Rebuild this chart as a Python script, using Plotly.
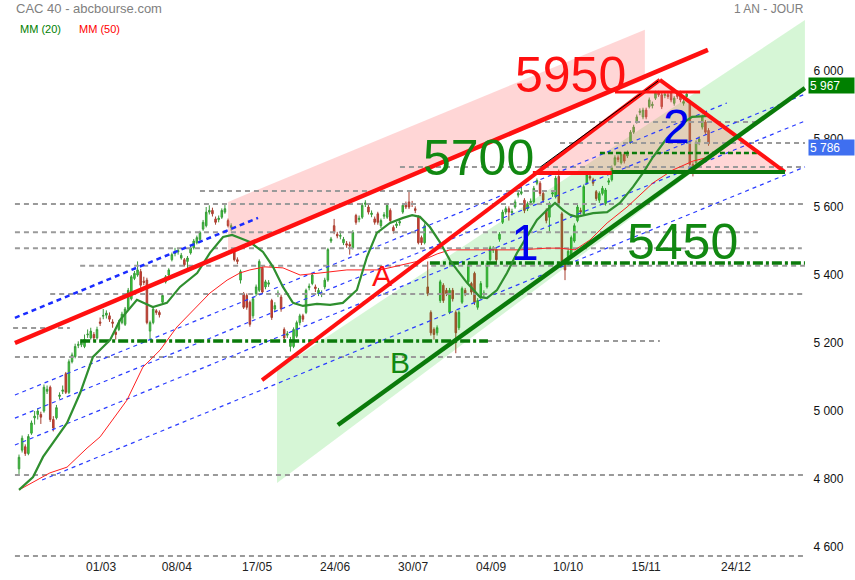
import plotly.graph_objects as go

# ---------------- data ----------------
opens = [4830,4885,4895,4875,4935,4980,4990,4990,5000,5058,
5070,4975,4980,5043,5058,5110,5055,5145,5160,5193,
5195,5190,5224,5215,5225,5215,5262,5279,5282,5280,
5262,5232,5240,5260,5255,5300,5330,5390,5400,5410,
5382,5385,5235,5260,5295,5290,5320,5380,5400,5445,
5463,5468,5450,5445,5440,5465,5480,5495,5505,5535,
5545,5585,5590,5565,5563,5570,5585,5560,5540,5475,
5445,5385,5345,5340,5320,5280,5345,5355,5420,5365,
5373,5325,5300,5343,5335,5240,5223,5190,5190,5220,
5260,5280,5290,5363,5375,5365,5345,5343,5365,5385,
5500,5545,5520,5514,5495,5492,5490,5480,5575,5563,
5570,5608,5600,5578,5565,5580,5545,5573,5570,5590,
5540,5545,5553,5585,5610,5615,5610,5595,5570,5510,
5495,5365,5290,5240,5230,5325,5370,5355,5290,5355,
5290,5245,5320,5355,5380,5375,5405,5305,5335,5343,
5365,5445,5473,5475,5505,5555,5585,5595,5583,5600,
5635,5640,5620,5595,5613,5615,5670,5670,5640,5590,
5570,5638,5630,5690,5580,5440,5435,5455,5500,5560,
5590,5580,5670,5690,5680,5645,5620,5640,5610,5673,
5680,5725,5745,5730,5755,5750,5790,5820,5850,5878,
5865,5885,5895,5898,5920,5935,5930,5928,5930,5935,
5905,5935,5935,5905,5925,5905,5725,5730,5790,5835,
5850,5825]
highs = [4872,4928,4902,4932,4972,5000,5008,4998,5078,5075,
5075,4985,5018,5055,5075,5115,5152,5172,5198,5205,
5210,5225,5240,5245,5232,5248,5275,5300,5296,5290,
5270,5240,5268,5292,5306,5362,5400,5412,5440,5418,
5395,5392,5266,5306,5300,5296,5346,5400,5420,5466,
5480,5480,5465,5450,5456,5486,5506,5516,5530,5562,
5600,5605,5598,5572,5575,5596,5610,5566,5552,5480,
5452,5416,5350,5346,5325,5336,5372,5446,5426,5386,
5385,5330,5320,5355,5342,5246,5235,5218,5246,5266,
5286,5286,5360,5375,5406,5372,5362,5355,5392,5480,
5512,5565,5527,5530,5512,5500,5498,5532,5580,5575,
5612,5620,5606,5590,5572,5586,5566,5585,5612,5596,
5546,5556,5565,5612,5616,5650,5618,5602,5576,5516,
5552,5440,5296,5246,5252,5386,5376,5362,5362,5362,
5296,5296,5366,5362,5436,5380,5410,5332,5382,5355,
5442,5486,5485,5482,5526,5592,5602,5602,5595,5622,
5648,5660,5626,5616,5625,5662,5684,5676,5646,5596,
5616,5650,5692,5710,5586,5446,5476,5516,5552,5606,
5598,5666,5702,5698,5686,5650,5646,5662,5656,5685,
5722,5752,5752,5762,5762,5766,5826,5842,5872,5890,
5892,5892,5922,5910,5942,5942,5936,5940,5938,5942,
5926,5942,5942,5918,5940,5912,5732,5796,5808,5872,
5856,5832]
lows = [4815,4878,4868,4870,4930,4960,4975,4962,4995,5050,
4968,4940,4975,5035,5050,5050,5050,5140,5155,5185,
5188,5185,5215,5210,5205,5210,5250,5270,5272,5262,
5245,5210,5235,5255,5250,5295,5325,5385,5395,5362,
5370,5255,5210,5255,5283,5275,5315,5375,5395,5440,
5455,5460,5445,5425,5420,5460,5475,5490,5500,5530,
5540,5578,5572,5548,5555,5565,5580,5540,5530,5440,
5432,5375,5300,5298,5248,5272,5338,5350,5345,5358,
5365,5268,5292,5335,5292,5200,5215,5175,5185,5215,
5252,5262,5285,5355,5370,5350,5338,5335,5358,5380,
5494,5520,5508,5505,5488,5480,5460,5475,5548,5555,
5565,5600,5578,5570,5548,5548,5538,5565,5565,5552,
5522,5538,5545,5580,5594,5594,5600,5582,5490,5488,
5490,5338,5222,5210,5222,5318,5318,5338,5285,5322,
5170,5238,5315,5338,5375,5342,5312,5298,5328,5335,
5360,5440,5465,5438,5498,5550,5578,5560,5575,5595,
5628,5635,5582,5588,5605,5610,5664,5632,5612,5552,
5528,5630,5625,5602,5428,5385,5428,5450,5495,5555,
5578,5575,5665,5678,5662,5618,5612,5634,5604,5665,
5675,5720,5732,5725,5728,5744,5785,5815,5845,5870,
5858,5858,5890,5890,5915,5924,5888,5920,5918,5908,
5898,5918,5908,5898,5918,5718,5690,5722,5782,5828,
5812,5780]
closes = [4864,4920,4875,4925,4965,4985,5000,4982,5070,5064,
4975,4950,5010,5047,5062,5055,5145,5165,5190,5196,
5202,5210,5226,5235,5215,5240,5258,5281,5288,5270,
5258,5225,5260,5285,5300,5355,5395,5405,5415,5370,
5378,5260,5260,5300,5290,5283,5340,5395,5415,5460,
5467,5472,5458,5430,5450,5480,5500,5510,5525,5555,
5585,5590,5580,5555,5567,5590,5595,5545,5545,5445,
5440,5410,5305,5305,5255,5330,5365,5440,5350,5380,
5377,5275,5310,5347,5300,5215,5227,5210,5240,5260,
5280,5270,5355,5367,5400,5360,5355,5347,5385,5475,
5506,5525,5515,5516,5505,5488,5485,5525,5555,5567,
5605,5612,5585,5582,5555,5555,5560,5577,5605,5560,
5530,5550,5557,5605,5600,5600,5608,5590,5495,5495,
5545,5345,5230,5225,5245,5380,5325,5345,5355,5330,
5230,5290,5360,5345,5430,5350,5320,5325,5375,5347,
5435,5480,5477,5445,5520,5585,5595,5585,5587,5615,
5640,5645,5590,5610,5617,5655,5678,5640,5620,5560,
5610,5642,5685,5610,5435,5415,5470,5510,5545,5600,
5585,5660,5695,5685,5670,5625,5640,5655,5650,5677,
5715,5745,5740,5755,5735,5760,5820,5835,5865,5882,
5885,5865,5915,5902,5935,5930,5895,5932,5925,5915,
5920,5925,5915,5910,5932,5725,5710,5790,5800,5865,
5820,5786]
bars = list(range(len(closes)))

# moving averages (bar index, value)
mm20_x = [0,4.5,7.7,10.9,15.4,19.6,23.7,29.2,32.4,37.8,42.9,47.4,51.6,57.1,61.2,65.4,68.3,70.8,74,78.2,81.4,84.6,87.8,91,95.5,99.7,103.8,108.3,111.5,114.7,118.9,123.1,126,128.5,131.7,134.9,138.1,140.4,143.6,147.8,150,153.2,156.4,159.6,162.8,166,169.2,171.8,174.4,176.6,178.8,184,188.5,192.6,196.8,200,203.2,207.7,211.9,215.7,221.2]
mm20_y = [4768,4806,4865,4906,4965,5053,5159,5209,5268,5327,5306,5318,5365,5406,5465,5512,5518,5509,5497,5468,5424,5365,5318,5309,5315,5312,5318,5356,5453,5524,5553,5568,5576,5571,5541,5497,5444,5415,5377,5335,5332,5356,5406,5465,5512,5562,5591,5612,5591,5577,5571,5582,5585,5612,5659,5700,5747,5803,5841,5865,5868]
mm50_x = [0,9.9,15.4,21.8,26,30.1,34.6,39.7,45.2,50.6,55.8,61.2,66.7,70.8,74,78.8,84.6,90.1,96.5,105.1,115.7,124.4,129.5,134,138.1,147.8,160.6,169.2,173.4,178.2,183,188.5,194.9,203.2,209.6,216,221.2]
mm50_y = [4768,4818,4835,4891,4924,4974,5032,5129,5179,5247,5297,5347,5385,5406,5415,5424,5421,5400,5406,5415,5415,5432,5444,5462,5474,5474,5474,5479,5479,5474,5503,5553,5600,5671,5709,5735,5747]

# x-axis tick labels (bar index of each date)
tick_pos = [26.3, 50.6, 76.3, 101.3, 126.3, 151.3, 176, 201, 229.8]
tick_txt = ["01/03", "08/04", "17/05", "24/06", "30/07", "04/09", "10/10", "15/11", "24/12"]
price_ticks = [4600, 4800, 5000, 5200, 5400, 5600, 5800, 6000]

# analyst drawings: (start bar, end bar), (start value, end value)
red_trend = [(-1.3, 220.8), (5200, 6062)]
red_a = [(77.9, 205.4), (5091, 5974)]
black_edge = [(167, 204.8), (5717, 5970)]
tri_right = [(205.4, 245.5), (5974, 5703)]
green_trend = [(102.2, 251.9), (4959, 5950)]
red_5700 = [(164.7, 190), (5700, 5700)]
green_5700 = [(190, 245.5), (5703, 5703)]
red_5950 = [(191, 218.3), (5938, 5938)]
blue_thick = [(-1.3, 76.6), (5274, 5568)]
blue_thin = [[(-1.3, 226.9), (5047, 5906)],
             [(-1.3, 251.9), (4979, 5932)],
             [(-1.3, 251.9), (4900, 5853)],
             [(7.4, 251.9), (4797, 5718)]]
# horizontal gray levels: (value, start bar, end bar)
gray_levels = [(5850, 168.6, 237.5), (5788, 173.4, 251.9), (5718, 122.1, 251.9),
               (5647, 58, 173.4), (5609, -1.3, 251.9), (5526, -1.3, 238.1),
               (5479, -1.3, 250.9), (5427, 19.6, 251.9), (5344, 10, 251.9),
               (5244, -1.9, 16.3), (5206, 150, 205.4), (5159, -1.3, 151),
               (4812, -1.3, 251.9), (4574, -1.3, 251.9)]
green_dashdot = [(5435, 131.7, 251.9), (5206, 19.6, 150.3)]
green_dash = [(5759, 186.2, 236.5)]
pink_zone_x = [67, 200.6, 200.6, 67]
pink_zone_y = [5615, 6121, 5975, 5462]
green_zone_x = [82.7, 82.7, 251.9, 251.9]
green_zone_y = [4788, 5121, 6150, 5950]
tri_x = [164.7, 205.4, 245.5]
tri_y = [5697, 5974, 5703]

# ---------------- figure ----------------
fig = go.Figure()
FONT = "Liberation Sans, Arial, sans-serif"

def line(xs, ys, color, width, dash="solid"):
    fig.add_trace(go.Scatter(x=list(xs), y=list(ys), mode="lines",
                             line=dict(color=color, width=width, dash=dash),
                             hoverinfo="skip", showlegend=False))

# zones
fig.add_trace(go.Scatter(x=pink_zone_x, y=pink_zone_y, fill="toself", mode="none",
                         fillcolor="rgba(255,120,120,0.30)", hoverinfo="skip", showlegend=False))
fig.add_trace(go.Scatter(x=green_zone_x, y=green_zone_y, fill="toself", mode="none",
                         fillcolor="rgba(0,200,0,0.16)", hoverinfo="skip", showlegend=False))
fig.add_trace(go.Scatter(x=tri_x, y=tri_y, fill="toself", mode="none",
                         fillcolor="rgba(255,120,120,0.30)", hoverinfo="skip", showlegend=False))

for v, a, b in gray_levels:
    line([a, b], [v, v], "#9a9a9a", 2, "5px,4px")
for xs, ys in blue_thin:
    line(xs, ys, "#2a3cff", 1.2, "4px,4px")
line(*blue_thick, "#1a2cff", 2.5, "5px,4px")
for v, a, b in green_dashdot:
    line([a, b], [v, v], "#0a7a0a", 3.5, "10px,3px,3px,3px")
for v, a, b in green_dash:
    line([a, b], [v, v], "#0a7a0a", 2.5, "5px,3px")

fig.add_trace(go.Candlestick(
    x=bars, open=opens, high=highs, low=lows, close=closes,
    increasing=dict(line=dict(color="#3a9a3a", width=1), fillcolor="#33dd33"),
    decreasing=dict(line=dict(color="#a84030", width=1), fillcolor="#dd3333"),
    whiskerwidth=0, hoverinfo="skip", showlegend=False))

line(mm50_x, mm50_y, "#ff2020", 1)
line(mm20_x, mm20_y, "#2f8f2f", 2.2)

line(*red_trend, "#ff1010", 4.5)
line(*red_a, "#ff1010", 4)
line(*black_edge, "#000000", 1)
line(*tri_right, "#ff1010", 4)
line(*red_5700, "#ff1010", 4)
line(*red_5950, "#ff1010", 3)
line(*green_5700, "#0a7a0a", 4)
line(*green_trend, "#0a7a0a", 4.5)

# big labels
def label(x, y, text, color, size):
    fig.add_annotation(x=x, y=y, xref="x", yref="y", text=text, showarrow=False,
                       font=dict(family=FONT, size=size, color=color))

label(176.6, 5988, "5950", "#ff1010", 50)
label(147.4, 5744, "5700", "#118811", 50)
label(212.8, 5497, "5450", "#118811", 50)
label(162.2, 5494, "1", "#0000ee", 50)
label(210.6, 5838, "2", "#0000ee", 48)
label(116.3, 5400, "A", "#ff1010", 30)
label(122.1, 5144, "B", "#118811", 30)

# header texts
fig.add_annotation(x=14/855, y=1-9/580, xref="paper", yref="paper", xanchor="left", yanchor="middle",
                   text="CAC 40 - abcbourse.com", showarrow=False,
                   font=dict(family=FONT, size=13, color="#808080"))
fig.add_annotation(x=18/855, y=1-29/580, xref="paper", yref="paper", xanchor="left", yanchor="middle",
                   text="MM (20)", showarrow=False, font=dict(family=FONT, size=11, color="#008000"))
fig.add_annotation(x=77/855, y=1-29/580, xref="paper", yref="paper", xanchor="left", yanchor="middle",
                   text="MM (50)", showarrow=False, font=dict(family=FONT, size=11, color="#ff0000"))
fig.add_annotation(x=806/855, y=1-9/580, xref="paper", yref="paper", xanchor="right", yanchor="middle",
                   text="1 AN - JOUR", showarrow=False, font=dict(family=FONT, size=12, color="#808080"))

# value boxes
fig.add_annotation(x=808/855, y=5956, xref="paper", yref="y", xanchor="left", yanchor="middle",
                   text="5 967", showarrow=False, bgcolor="#008000", width=43, height=13, align="left",
                   borderpad=1, font=dict(family=FONT, size=12, color="white"))
fig.add_annotation(x=808/855, y=5774, xref="paper", yref="y", xanchor="left", yanchor="middle",
                   text="5 786", showarrow=False, bgcolor="#3f6ff0", width=43, height=13, align="left",
                   borderpad=1, font=dict(family=FONT, size=12, color="white"))

fig.update_layout(
    width=855, height=580,
    margin=dict(l=0, r=0, t=0, b=0),
    paper_bgcolor="white", plot_bgcolor="white",
    separators=", ",
    showlegend=False,
    xaxis=dict(domain=[0, 806/855], range=[-6.09, 252.24], showgrid=False, zeroline=False,
               showline=False, tickvals=tick_pos, ticktext=tick_txt, ticks="",
               ticklabelstandoff=-2,
               tickfont=dict(family=FONT, size=12, color="#222"),
               rangeslider=dict(visible=False), automargin=False),
    yaxis=dict(domain=[20/580, 1], range=[4561.9, 6208.8], side="right", showgrid=False,
               zeroline=False, showline=False, tickvals=price_ticks, tickformat=",d",
               ticks="outside", ticklen=4, tickcolor="rgba(0,0,0,0)",
               tickfont=dict(family=FONT, size=12, color="#111"), automargin=False),
)

fig.write_html("out.html", config={"displayModeBar": False, "staticPlot": True},
               post_script="document.body.style.margin='0px';document.body.style.overflow='hidden';")
